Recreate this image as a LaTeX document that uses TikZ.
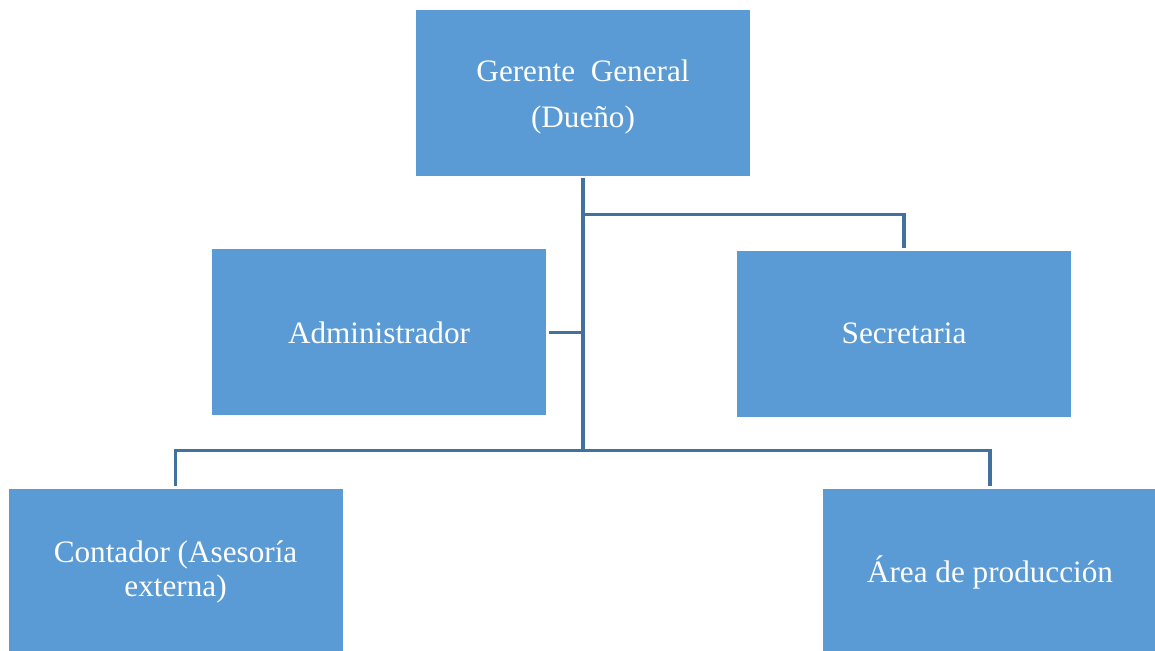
\documentclass[tikz,border=0pt]{standalone}
\usepackage{fontspec}
\setmainfont{Liberation Serif}
\usetikzlibrary{positioning}
\definecolor{boxblue}{HTML}{5B9BD5}
\definecolor{lineblue}{HTML}{41719C}

\begin{document}
\begin{tikzpicture}[x=0.75pt, y=-0.75pt, on grid,
    org/.style={rectangle, fill=boxblue, minimum width=250.5pt, minimum height=124.5pt,
        inner sep=0pt, text=white, align=center, font=\fontsize{23.4}{26}\selectfont},
    link/.style={draw=lineblue, line width=2.4pt}]
    \useasboundingbox (0,0) rectangle (1155,650);

    \node[org] (ger) at (583,93) {\rule{0pt}{22pt}Gerente\ \ General\\[8pt](Dueño)};
    \node[org] (adm) [below left=179.6pt and 153pt of ger] {Administrador};
    \node[org] (sec) [below right=180.4pt and 240.75pt of ger] {Secretaria};
    \node[org] (con) [below left=359.25pt and 305.6pt of ger] {Contador (Asesoría\\externa)};
    \node[org] (are) [below right=359.25pt and 305.25pt of ger] {Área de producción};

    \coordinate (topbus) at ([yshift=-28.5pt]ger.south);
    \coordinate (lowbus) at ([yshift=28.5pt]ger.south |- con.north);

    \draw[link] ([yshift=-1pt]ger.south) -- (lowbus);
    \draw[link] (topbus) -| ([yshift=2pt]sec.north);
    \draw[link] ([xshift=2pt]adm.east) -- (adm.east -| ger.south);
    \draw[link] ([yshift=2pt]con.north) |- (lowbus) -| ([yshift=2pt]are.north);
\end{tikzpicture}
\end{document}
